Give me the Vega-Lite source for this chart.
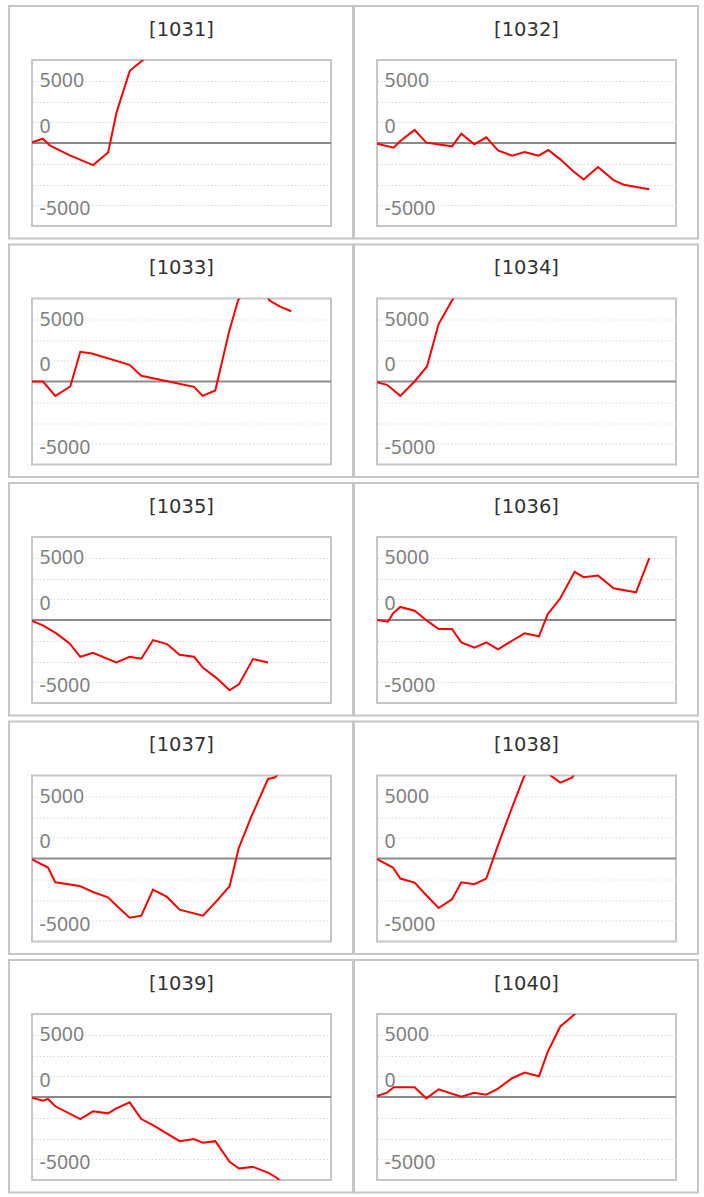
{
  "$schema": "https://vega.github.io/schema/vega-lite/v6.json",
  "padding": {"left": 7, "top": 4, "right": 0, "bottom": 0},
  "autosize": {"type": "pad"},
  "background": "white",
  "bounds": "flush",
  "spacing": {"row": 72.5, "column": 46},
  "columns": 2,
  "data": {"values": [
    {"panel":"[1031]","t":0,"v":85},{"panel":"[1031]","t":10.8,"v":520},{"panel":"[1031]","t":17.8,"v":-280},{"panel":"[1031]","t":37.8,"v":-1490},{"panel":"[1031]","t":61.2,"v":-2660},{"panel":"[1031]","t":76.2,"v":-1120},{"panel":"[1031]","t":84.5,"v":3660},{"panel":"[1031]","t":97.8,"v":8700},{"panel":"[1031]","t":108.8,"v":9790},{"panel":"[1031]","t":115,"v":10400},
    {"panel":"[1032]","t":0,"v":-80},{"panel":"[1032]","t":16.6,"v":-570},{"panel":"[1032]","t":23.3,"v":240},{"panel":"[1032]","t":37.6,"v":1570},{"panel":"[1032]","t":49.3,"v":40},{"panel":"[1032]","t":75,"v":-400},{"panel":"[1032]","t":84.3,"v":1120},{"panel":"[1032]","t":97.3,"v":-160},{"panel":"[1032]","t":109.3,"v":690},{"panel":"[1032]","t":121,"v":-890},{"panel":"[1032]","t":135,"v":-1530},{"panel":"[1032]","t":147.6,"v":-1090},{"panel":"[1032]","t":161.6,"v":-1530},{"panel":"[1032]","t":171.3,"v":-850},{"panel":"[1032]","t":183.3,"v":-1970},{"panel":"[1032]","t":196,"v":-3380},{"panel":"[1032]","t":206.6,"v":-4390},{"panel":"[1032]","t":221,"v":-2900},{"panel":"[1032]","t":236.6,"v":-4470},{"panel":"[1032]","t":246.6,"v":-5030},{"panel":"[1032]","t":272.3,"v":-5560},
    {"panel":"[1033]","t":0,"v":0},{"panel":"[1033]","t":11,"v":0},{"panel":"[1033]","t":23.3,"v":-1730},{"panel":"[1033]","t":38.3,"v":-600},{"panel":"[1033]","t":48.3,"v":3580},{"panel":"[1033]","t":60,"v":3380},{"panel":"[1033]","t":97.6,"v":2010},{"panel":"[1033]","t":109.3,"v":690},{"panel":"[1033]","t":162,"v":-640},{"panel":"[1033]","t":170.6,"v":-1730},{"panel":"[1033]","t":183.3,"v":-1090},{"panel":"[1033]","t":197,"v":5960},{"panel":"[1033]","t":206,"v":9750},{"panel":"[1033]","t":222,"v":13000},{"panel":"[1033]","t":237.6,"v":9750},{"panel":"[1033]","t":247.6,"v":9060},{"panel":"[1033]","t":259.3,"v":8460},
    {"panel":"[1034]","t":0,"v":-80},{"panel":"[1034]","t":10,"v":-400},{"panel":"[1034]","t":23.3,"v":-1730},{"panel":"[1034]","t":37.6,"v":0},{"panel":"[1034]","t":50,"v":1810},{"panel":"[1034]","t":61.6,"v":6920},{"panel":"[1034]","t":75,"v":9750},{"panel":"[1034]","t":80,"v":10800},
    {"panel":"[1035]","t":0,"v":-120},{"panel":"[1035]","t":11,"v":-640},{"panel":"[1035]","t":24.3,"v":-1610},{"panel":"[1035]","t":37.6,"v":-2820},{"panel":"[1035]","t":48.3,"v":-4430},{"panel":"[1035]","t":61,"v":-3950},{"panel":"[1035]","t":84.3,"v":-5110},{"panel":"[1035]","t":97.6,"v":-4430},{"panel":"[1035]","t":109.3,"v":-4670},{"panel":"[1035]","t":121,"v":-2420},{"panel":"[1035]","t":135,"v":-2900},{"panel":"[1035]","t":147.6,"v":-4190},{"panel":"[1035]","t":162,"v":-4430},{"panel":"[1035]","t":171,"v":-5760},{"panel":"[1035]","t":184.3,"v":-6970},{"panel":"[1035]","t":197.6,"v":-8460},{"panel":"[1035]","t":207,"v":-7730},{"panel":"[1035]","t":221,"v":-4710},{"panel":"[1035]","t":236,"v":-5110},
    {"panel":"[1036]","t":0,"v":0},{"panel":"[1036]","t":11,"v":-200},{"panel":"[1036]","t":16,"v":800},{"panel":"[1036]","t":23.3,"v":1570},{"panel":"[1036]","t":37.6,"v":1120},{"panel":"[1036]","t":50,"v":-80},{"panel":"[1036]","t":61.6,"v":-1090},{"panel":"[1036]","t":75,"v":-1090},{"panel":"[1036]","t":84.3,"v":-2700},{"panel":"[1036]","t":97.6,"v":-3340},{"panel":"[1036]","t":109.3,"v":-2700},{"panel":"[1036]","t":121,"v":-3540},{"panel":"[1036]","t":135,"v":-2500},{"panel":"[1036]","t":147.6,"v":-1610},{"panel":"[1036]","t":162,"v":-1970},{"panel":"[1036]","t":170.6,"v":690},{"panel":"[1036]","t":183.3,"v":2620},{"panel":"[1036]","t":197.6,"v":5800},{"panel":"[1036]","t":206.6,"v":5160},{"panel":"[1036]","t":221,"v":5360},{"panel":"[1036]","t":236.6,"v":3830},{"panel":"[1036]","t":259,"v":3340},{"panel":"[1036]","t":272.3,"v":7450},
    {"panel":"[1037]","t":0,"v":-120},{"panel":"[1037]","t":16,"v":-1090},{"panel":"[1037]","t":23.3,"v":-2860},{"panel":"[1037]","t":47.6,"v":-3300},{"panel":"[1037]","t":61,"v":-4030},{"panel":"[1037]","t":76,"v":-4670},{"panel":"[1037]","t":86,"v":-5840},{"panel":"[1037]","t":97.6,"v":-7130},{"panel":"[1037]","t":109.3,"v":-6890},{"panel":"[1037]","t":121,"v":-3750},{"panel":"[1037]","t":135,"v":-4630},{"panel":"[1037]","t":147.6,"v":-6160},{"panel":"[1037]","t":171,"v":-6890},{"panel":"[1037]","t":184.3,"v":-5160},{"panel":"[1037]","t":197.6,"v":-3340},{"panel":"[1037]","t":206.6,"v":1210},{"panel":"[1037]","t":219.3,"v":5030},{"panel":"[1037]","t":236,"v":9580},{"panel":"[1037]","t":242.6,"v":9750},{"panel":"[1037]","t":250,"v":10600},
    {"panel":"[1038]","t":0,"v":-80},{"panel":"[1038]","t":16,"v":-1090},{"panel":"[1038]","t":23.3,"v":-2420},{"panel":"[1038]","t":37.6,"v":-2900},{"panel":"[1038]","t":49.3,"v":-4430},{"panel":"[1038]","t":61.6,"v":-5960},{"panel":"[1038]","t":75,"v":-4910},{"panel":"[1038]","t":84.3,"v":-2860},{"panel":"[1038]","t":97.3,"v":-3100},{"panel":"[1038]","t":109.3,"v":-2420},{"panel":"[1038]","t":121,"v":1610},{"panel":"[1038]","t":135,"v":6120},{"panel":"[1038]","t":146.6,"v":9750},{"panel":"[1038]","t":160,"v":12500},{"panel":"[1038]","t":173,"v":10050},{"panel":"[1038]","t":183.3,"v":9140},{"panel":"[1038]","t":195,"v":9750},{"panel":"[1038]","t":205,"v":11500},
    {"panel":"[1039]","t":0,"v":-80},{"panel":"[1039]","t":11,"v":-450},{"panel":"[1039]","t":16,"v":-240},{"panel":"[1039]","t":23.3,"v":-1120},{"panel":"[1039]","t":48.3,"v":-2660},{"panel":"[1039]","t":61,"v":-1730},{"panel":"[1039]","t":76,"v":-1970},{"panel":"[1039]","t":84.3,"v":-1370},{"panel":"[1039]","t":97.6,"v":-640},{"panel":"[1039]","t":109.3,"v":-2660},{"panel":"[1039]","t":121,"v":-3380},{"panel":"[1039]","t":147.6,"v":-5320},{"panel":"[1039]","t":162,"v":-5070},{"panel":"[1039]","t":171,"v":-5520},{"panel":"[1039]","t":183.3,"v":-5320},{"panel":"[1039]","t":197.6,"v":-7810},{"panel":"[1039]","t":207,"v":-8620},{"panel":"[1039]","t":221,"v":-8420},{"panel":"[1039]","t":236,"v":-9100},{"panel":"[1039]","t":244.3,"v":-9700},{"panel":"[1039]","t":255,"v":-10800},
    {"panel":"[1040]","t":0,"v":120},{"panel":"[1040]","t":10,"v":520},{"panel":"[1040]","t":16.6,"v":1170},{"panel":"[1040]","t":37.6,"v":1170},{"panel":"[1040]","t":49.3,"v":-160},{"panel":"[1040]","t":61.6,"v":930},{"panel":"[1040]","t":84.3,"v":40},{"panel":"[1040]","t":97.3,"v":520},{"panel":"[1040]","t":109.3,"v":280},{"panel":"[1040]","t":121,"v":1010},{"panel":"[1040]","t":135,"v":2260},{"panel":"[1040]","t":147.6,"v":2940},{"panel":"[1040]","t":162,"v":2500},{"panel":"[1040]","t":170.6,"v":5400},{"panel":"[1040]","t":183.3,"v":8500},{"panel":"[1040]","t":195,"v":9700},{"panel":"[1040]","t":205,"v":10800}
  ]},
  "concat": [
    {"width":299,"height":166,"transform":[{"filter":"datum.panel == '[1031]'"}],"resolve":{"axis":{"y":"independent"}},"layer":[
      {"transform":[{"filter":"datum.t == 0"}],"mark":{"type":"rect","filled":false,"color":"#c6c6c6","strokeWidth":2},"encoding":{"x":{"datum":-23,"type":"quantitative","scale":{"domain":[0,299],"nice":false,"zero":false},"axis":null},"x2":{"datum":321},"y":{"datum":16506,"type":"quantitative","scale":{"domain":[-10000,10000],"nice":false,"zero":false},"axis":null},"y2":{"datum":-11506}}},
      {"transform":[{"filter":"datum.t == 0"}],"mark":{"type":"rule","color":"#8a8a8a","strokeWidth":2},"encoding":{"y":{"datum":0,"type":"quantitative","scale":{"domain":[-10000,10000],"nice":false,"zero":false},"axis":{"orient":"left","values":[-7500,-5000,-2500,2500,5000,7500],"grid":true,"labels":false}}}},
      {"mark":{"type":"line","color":"#ff0000","strokeWidth":2,"clip":true},"encoding":{"x":{"field":"t","type":"quantitative","scale":{"domain":[0,299],"nice":false,"zero":false},"axis":null},"y":{"field":"v","type":"quantitative","scale":{"domain":[-10000,10000],"nice":false,"zero":false},"axis":{"orient":"left","values":[6800,1280,-8630],"grid":false,"labelExpr":"datum.value > 5000 ? '5000' : datum.value > 0 ? '0' : '-5000'"}}}},
      {"transform":[{"filter":"datum.t == 0"}],"mark":{"type":"text","font":"DejaVu Sans","fontSize":19.5,"color":"#333333","align":"center","baseline":"alphabetic"},"encoding":{"x":{"datum":149.5,"type":"quantitative","scale":{"domain":[0,299],"nice":false,"zero":false},"axis":null},"y":{"datum":12950,"type":"quantitative","scale":{"domain":[-10000,10000],"nice":false,"zero":false},"axis":null},"text":{"field":"panel"}}}
    ]},
    {"width":299,"height":166,"transform":[{"filter":"datum.panel == '[1032]'"}],"resolve":{"axis":{"y":"independent"}},"layer":[
      {"transform":[{"filter":"datum.t == 0"}],"mark":{"type":"rect","filled":false,"color":"#c6c6c6","strokeWidth":2},"encoding":{"x":{"datum":-23,"type":"quantitative","scale":{"domain":[0,299],"nice":false,"zero":false},"axis":null},"x2":{"datum":321},"y":{"datum":16506,"type":"quantitative","scale":{"domain":[-10000,10000],"nice":false,"zero":false},"axis":null},"y2":{"datum":-11506}}},
      {"transform":[{"filter":"datum.t == 0"}],"mark":{"type":"rule","color":"#8a8a8a","strokeWidth":2},"encoding":{"y":{"datum":0,"type":"quantitative","scale":{"domain":[-10000,10000],"nice":false,"zero":false},"axis":{"orient":"left","values":[-7500,-5000,-2500,2500,5000,7500],"grid":true,"labels":false}}}},
      {"mark":{"type":"line","color":"#ff0000","strokeWidth":2,"clip":true},"encoding":{"x":{"field":"t","type":"quantitative","scale":{"domain":[0,299],"nice":false,"zero":false},"axis":null},"y":{"field":"v","type":"quantitative","scale":{"domain":[-10000,10000],"nice":false,"zero":false},"axis":{"orient":"left","values":[6800,1280,-8630],"grid":false,"labelExpr":"datum.value > 5000 ? '5000' : datum.value > 0 ? '0' : '-5000'"}}}},
      {"transform":[{"filter":"datum.t == 0"}],"mark":{"type":"text","font":"DejaVu Sans","fontSize":19.5,"color":"#333333","align":"center","baseline":"alphabetic"},"encoding":{"x":{"datum":149.5,"type":"quantitative","scale":{"domain":[0,299],"nice":false,"zero":false},"axis":null},"y":{"datum":12950,"type":"quantitative","scale":{"domain":[-10000,10000],"nice":false,"zero":false},"axis":null},"text":{"field":"panel"}}}
    ]},
    {"width":299,"height":166,"transform":[{"filter":"datum.panel == '[1033]'"}],"resolve":{"axis":{"y":"independent"}},"layer":[
      {"transform":[{"filter":"datum.t == 0"}],"mark":{"type":"rect","filled":false,"color":"#c6c6c6","strokeWidth":2},"encoding":{"x":{"datum":-23,"type":"quantitative","scale":{"domain":[0,299],"nice":false,"zero":false},"axis":null},"x2":{"datum":321},"y":{"datum":16506,"type":"quantitative","scale":{"domain":[-10000,10000],"nice":false,"zero":false},"axis":null},"y2":{"datum":-11506}}},
      {"transform":[{"filter":"datum.t == 0"}],"mark":{"type":"rule","color":"#8a8a8a","strokeWidth":2},"encoding":{"y":{"datum":0,"type":"quantitative","scale":{"domain":[-10000,10000],"nice":false,"zero":false},"axis":{"orient":"left","values":[-7500,-5000,-2500,2500,5000,7500],"grid":true,"labels":false}}}},
      {"mark":{"type":"line","color":"#ff0000","strokeWidth":2,"clip":true},"encoding":{"x":{"field":"t","type":"quantitative","scale":{"domain":[0,299],"nice":false,"zero":false},"axis":null},"y":{"field":"v","type":"quantitative","scale":{"domain":[-10000,10000],"nice":false,"zero":false},"axis":{"orient":"left","values":[6800,1280,-8630],"grid":false,"labelExpr":"datum.value > 5000 ? '5000' : datum.value > 0 ? '0' : '-5000'"}}}},
      {"transform":[{"filter":"datum.t == 0"}],"mark":{"type":"text","font":"DejaVu Sans","fontSize":19.5,"color":"#333333","align":"center","baseline":"alphabetic"},"encoding":{"x":{"datum":149.5,"type":"quantitative","scale":{"domain":[0,299],"nice":false,"zero":false},"axis":null},"y":{"datum":12950,"type":"quantitative","scale":{"domain":[-10000,10000],"nice":false,"zero":false},"axis":null},"text":{"field":"panel"}}}
    ]},
    {"width":299,"height":166,"transform":[{"filter":"datum.panel == '[1034]'"}],"resolve":{"axis":{"y":"independent"}},"layer":[
      {"transform":[{"filter":"datum.t == 0"}],"mark":{"type":"rect","filled":false,"color":"#c6c6c6","strokeWidth":2},"encoding":{"x":{"datum":-23,"type":"quantitative","scale":{"domain":[0,299],"nice":false,"zero":false},"axis":null},"x2":{"datum":321},"y":{"datum":16506,"type":"quantitative","scale":{"domain":[-10000,10000],"nice":false,"zero":false},"axis":null},"y2":{"datum":-11506}}},
      {"transform":[{"filter":"datum.t == 0"}],"mark":{"type":"rule","color":"#8a8a8a","strokeWidth":2},"encoding":{"y":{"datum":0,"type":"quantitative","scale":{"domain":[-10000,10000],"nice":false,"zero":false},"axis":{"orient":"left","values":[-7500,-5000,-2500,2500,5000,7500],"grid":true,"labels":false}}}},
      {"mark":{"type":"line","color":"#ff0000","strokeWidth":2,"clip":true},"encoding":{"x":{"field":"t","type":"quantitative","scale":{"domain":[0,299],"nice":false,"zero":false},"axis":null},"y":{"field":"v","type":"quantitative","scale":{"domain":[-10000,10000],"nice":false,"zero":false},"axis":{"orient":"left","values":[6800,1280,-8630],"grid":false,"labelExpr":"datum.value > 5000 ? '5000' : datum.value > 0 ? '0' : '-5000'"}}}},
      {"transform":[{"filter":"datum.t == 0"}],"mark":{"type":"text","font":"DejaVu Sans","fontSize":19.5,"color":"#333333","align":"center","baseline":"alphabetic"},"encoding":{"x":{"datum":149.5,"type":"quantitative","scale":{"domain":[0,299],"nice":false,"zero":false},"axis":null},"y":{"datum":12950,"type":"quantitative","scale":{"domain":[-10000,10000],"nice":false,"zero":false},"axis":null},"text":{"field":"panel"}}}
    ]},
    {"width":299,"height":166,"transform":[{"filter":"datum.panel == '[1035]'"}],"resolve":{"axis":{"y":"independent"}},"layer":[
      {"transform":[{"filter":"datum.t == 0"}],"mark":{"type":"rect","filled":false,"color":"#c6c6c6","strokeWidth":2},"encoding":{"x":{"datum":-23,"type":"quantitative","scale":{"domain":[0,299],"nice":false,"zero":false},"axis":null},"x2":{"datum":321},"y":{"datum":16506,"type":"quantitative","scale":{"domain":[-10000,10000],"nice":false,"zero":false},"axis":null},"y2":{"datum":-11506}}},
      {"transform":[{"filter":"datum.t == 0"}],"mark":{"type":"rule","color":"#8a8a8a","strokeWidth":2},"encoding":{"y":{"datum":0,"type":"quantitative","scale":{"domain":[-10000,10000],"nice":false,"zero":false},"axis":{"orient":"left","values":[-7500,-5000,-2500,2500,5000,7500],"grid":true,"labels":false}}}},
      {"mark":{"type":"line","color":"#ff0000","strokeWidth":2,"clip":true},"encoding":{"x":{"field":"t","type":"quantitative","scale":{"domain":[0,299],"nice":false,"zero":false},"axis":null},"y":{"field":"v","type":"quantitative","scale":{"domain":[-10000,10000],"nice":false,"zero":false},"axis":{"orient":"left","values":[6800,1280,-8630],"grid":false,"labelExpr":"datum.value > 5000 ? '5000' : datum.value > 0 ? '0' : '-5000'"}}}},
      {"transform":[{"filter":"datum.t == 0"}],"mark":{"type":"text","font":"DejaVu Sans","fontSize":19.5,"color":"#333333","align":"center","baseline":"alphabetic"},"encoding":{"x":{"datum":149.5,"type":"quantitative","scale":{"domain":[0,299],"nice":false,"zero":false},"axis":null},"y":{"datum":12950,"type":"quantitative","scale":{"domain":[-10000,10000],"nice":false,"zero":false},"axis":null},"text":{"field":"panel"}}}
    ]},
    {"width":299,"height":166,"transform":[{"filter":"datum.panel == '[1036]'"}],"resolve":{"axis":{"y":"independent"}},"layer":[
      {"transform":[{"filter":"datum.t == 0"}],"mark":{"type":"rect","filled":false,"color":"#c6c6c6","strokeWidth":2},"encoding":{"x":{"datum":-23,"type":"quantitative","scale":{"domain":[0,299],"nice":false,"zero":false},"axis":null},"x2":{"datum":321},"y":{"datum":16506,"type":"quantitative","scale":{"domain":[-10000,10000],"nice":false,"zero":false},"axis":null},"y2":{"datum":-11506}}},
      {"transform":[{"filter":"datum.t == 0"}],"mark":{"type":"rule","color":"#8a8a8a","strokeWidth":2},"encoding":{"y":{"datum":0,"type":"quantitative","scale":{"domain":[-10000,10000],"nice":false,"zero":false},"axis":{"orient":"left","values":[-7500,-5000,-2500,2500,5000,7500],"grid":true,"labels":false}}}},
      {"mark":{"type":"line","color":"#ff0000","strokeWidth":2,"clip":true},"encoding":{"x":{"field":"t","type":"quantitative","scale":{"domain":[0,299],"nice":false,"zero":false},"axis":null},"y":{"field":"v","type":"quantitative","scale":{"domain":[-10000,10000],"nice":false,"zero":false},"axis":{"orient":"left","values":[6800,1280,-8630],"grid":false,"labelExpr":"datum.value > 5000 ? '5000' : datum.value > 0 ? '0' : '-5000'"}}}},
      {"transform":[{"filter":"datum.t == 0"}],"mark":{"type":"text","font":"DejaVu Sans","fontSize":19.5,"color":"#333333","align":"center","baseline":"alphabetic"},"encoding":{"x":{"datum":149.5,"type":"quantitative","scale":{"domain":[0,299],"nice":false,"zero":false},"axis":null},"y":{"datum":12950,"type":"quantitative","scale":{"domain":[-10000,10000],"nice":false,"zero":false},"axis":null},"text":{"field":"panel"}}}
    ]},
    {"width":299,"height":166,"transform":[{"filter":"datum.panel == '[1037]'"}],"resolve":{"axis":{"y":"independent"}},"layer":[
      {"transform":[{"filter":"datum.t == 0"}],"mark":{"type":"rect","filled":false,"color":"#c6c6c6","strokeWidth":2},"encoding":{"x":{"datum":-23,"type":"quantitative","scale":{"domain":[0,299],"nice":false,"zero":false},"axis":null},"x2":{"datum":321},"y":{"datum":16506,"type":"quantitative","scale":{"domain":[-10000,10000],"nice":false,"zero":false},"axis":null},"y2":{"datum":-11506}}},
      {"transform":[{"filter":"datum.t == 0"}],"mark":{"type":"rule","color":"#8a8a8a","strokeWidth":2},"encoding":{"y":{"datum":0,"type":"quantitative","scale":{"domain":[-10000,10000],"nice":false,"zero":false},"axis":{"orient":"left","values":[-7500,-5000,-2500,2500,5000,7500],"grid":true,"labels":false}}}},
      {"mark":{"type":"line","color":"#ff0000","strokeWidth":2,"clip":true},"encoding":{"x":{"field":"t","type":"quantitative","scale":{"domain":[0,299],"nice":false,"zero":false},"axis":null},"y":{"field":"v","type":"quantitative","scale":{"domain":[-10000,10000],"nice":false,"zero":false},"axis":{"orient":"left","values":[6800,1280,-8630],"grid":false,"labelExpr":"datum.value > 5000 ? '5000' : datum.value > 0 ? '0' : '-5000'"}}}},
      {"transform":[{"filter":"datum.t == 0"}],"mark":{"type":"text","font":"DejaVu Sans","fontSize":19.5,"color":"#333333","align":"center","baseline":"alphabetic"},"encoding":{"x":{"datum":149.5,"type":"quantitative","scale":{"domain":[0,299],"nice":false,"zero":false},"axis":null},"y":{"datum":12950,"type":"quantitative","scale":{"domain":[-10000,10000],"nice":false,"zero":false},"axis":null},"text":{"field":"panel"}}}
    ]},
    {"width":299,"height":166,"transform":[{"filter":"datum.panel == '[1038]'"}],"resolve":{"axis":{"y":"independent"}},"layer":[
      {"transform":[{"filter":"datum.t == 0"}],"mark":{"type":"rect","filled":false,"color":"#c6c6c6","strokeWidth":2},"encoding":{"x":{"datum":-23,"type":"quantitative","scale":{"domain":[0,299],"nice":false,"zero":false},"axis":null},"x2":{"datum":321},"y":{"datum":16506,"type":"quantitative","scale":{"domain":[-10000,10000],"nice":false,"zero":false},"axis":null},"y2":{"datum":-11506}}},
      {"transform":[{"filter":"datum.t == 0"}],"mark":{"type":"rule","color":"#8a8a8a","strokeWidth":2},"encoding":{"y":{"datum":0,"type":"quantitative","scale":{"domain":[-10000,10000],"nice":false,"zero":false},"axis":{"orient":"left","values":[-7500,-5000,-2500,2500,5000,7500],"grid":true,"labels":false}}}},
      {"mark":{"type":"line","color":"#ff0000","strokeWidth":2,"clip":true},"encoding":{"x":{"field":"t","type":"quantitative","scale":{"domain":[0,299],"nice":false,"zero":false},"axis":null},"y":{"field":"v","type":"quantitative","scale":{"domain":[-10000,10000],"nice":false,"zero":false},"axis":{"orient":"left","values":[6800,1280,-8630],"grid":false,"labelExpr":"datum.value > 5000 ? '5000' : datum.value > 0 ? '0' : '-5000'"}}}},
      {"transform":[{"filter":"datum.t == 0"}],"mark":{"type":"text","font":"DejaVu Sans","fontSize":19.5,"color":"#333333","align":"center","baseline":"alphabetic"},"encoding":{"x":{"datum":149.5,"type":"quantitative","scale":{"domain":[0,299],"nice":false,"zero":false},"axis":null},"y":{"datum":12950,"type":"quantitative","scale":{"domain":[-10000,10000],"nice":false,"zero":false},"axis":null},"text":{"field":"panel"}}}
    ]},
    {"width":299,"height":166,"transform":[{"filter":"datum.panel == '[1039]'"}],"resolve":{"axis":{"y":"independent"}},"layer":[
      {"transform":[{"filter":"datum.t == 0"}],"mark":{"type":"rect","filled":false,"color":"#c6c6c6","strokeWidth":2},"encoding":{"x":{"datum":-23,"type":"quantitative","scale":{"domain":[0,299],"nice":false,"zero":false},"axis":null},"x2":{"datum":321},"y":{"datum":16506,"type":"quantitative","scale":{"domain":[-10000,10000],"nice":false,"zero":false},"axis":null},"y2":{"datum":-11506}}},
      {"transform":[{"filter":"datum.t == 0"}],"mark":{"type":"rule","color":"#8a8a8a","strokeWidth":2},"encoding":{"y":{"datum":0,"type":"quantitative","scale":{"domain":[-10000,10000],"nice":false,"zero":false},"axis":{"orient":"left","values":[-7500,-5000,-2500,2500,5000,7500],"grid":true,"labels":false}}}},
      {"mark":{"type":"line","color":"#ff0000","strokeWidth":2,"clip":true},"encoding":{"x":{"field":"t","type":"quantitative","scale":{"domain":[0,299],"nice":false,"zero":false},"axis":null},"y":{"field":"v","type":"quantitative","scale":{"domain":[-10000,10000],"nice":false,"zero":false},"axis":{"orient":"left","values":[6800,1280,-8630],"grid":false,"labelExpr":"datum.value > 5000 ? '5000' : datum.value > 0 ? '0' : '-5000'"}}}},
      {"transform":[{"filter":"datum.t == 0"}],"mark":{"type":"text","font":"DejaVu Sans","fontSize":19.5,"color":"#333333","align":"center","baseline":"alphabetic"},"encoding":{"x":{"datum":149.5,"type":"quantitative","scale":{"domain":[0,299],"nice":false,"zero":false},"axis":null},"y":{"datum":12950,"type":"quantitative","scale":{"domain":[-10000,10000],"nice":false,"zero":false},"axis":null},"text":{"field":"panel"}}}
    ]},
    {"width":299,"height":166,"transform":[{"filter":"datum.panel == '[1040]'"}],"resolve":{"axis":{"y":"independent"}},"layer":[
      {"transform":[{"filter":"datum.t == 0"}],"mark":{"type":"rect","filled":false,"color":"#c6c6c6","strokeWidth":2},"encoding":{"x":{"datum":-23,"type":"quantitative","scale":{"domain":[0,299],"nice":false,"zero":false},"axis":null},"x2":{"datum":321},"y":{"datum":16506,"type":"quantitative","scale":{"domain":[-10000,10000],"nice":false,"zero":false},"axis":null},"y2":{"datum":-11506}}},
      {"transform":[{"filter":"datum.t == 0"}],"mark":{"type":"rule","color":"#8a8a8a","strokeWidth":2},"encoding":{"y":{"datum":0,"type":"quantitative","scale":{"domain":[-10000,10000],"nice":false,"zero":false},"axis":{"orient":"left","values":[-7500,-5000,-2500,2500,5000,7500],"grid":true,"labels":false}}}},
      {"mark":{"type":"line","color":"#ff0000","strokeWidth":2,"clip":true},"encoding":{"x":{"field":"t","type":"quantitative","scale":{"domain":[0,299],"nice":false,"zero":false},"axis":null},"y":{"field":"v","type":"quantitative","scale":{"domain":[-10000,10000],"nice":false,"zero":false},"axis":{"orient":"left","values":[6800,1280,-8630],"grid":false,"labelExpr":"datum.value > 5000 ? '5000' : datum.value > 0 ? '0' : '-5000'"}}}},
      {"transform":[{"filter":"datum.t == 0"}],"mark":{"type":"text","font":"DejaVu Sans","fontSize":19.5,"color":"#333333","align":"center","baseline":"alphabetic"},"encoding":{"x":{"datum":149.5,"type":"quantitative","scale":{"domain":[0,299],"nice":false,"zero":false},"axis":null},"y":{"datum":12950,"type":"quantitative","scale":{"domain":[-10000,10000],"nice":false,"zero":false},"axis":null},"text":{"field":"panel"}}}
    ]}
  ],
  "config": {
    "view": {"stroke": "#c6c6c6", "strokeWidth": 2},
    "axis": {"title": null, "domain": false, "ticks": false, "tickSize": 0, "gridColor": "#d9d9d9", "gridDash": [1.5, 2], "gridWidth": 1, "labelPadding": -7, "labelAlign": "left", "labelBaseline": "alphabetic", "labelFont": "Noto Sans", "labelFontSize": 19.5, "labelColor": "#7f7f7f", "labelOverlap": false, "labelFlush": false, "labelBound": false}
  }
}
